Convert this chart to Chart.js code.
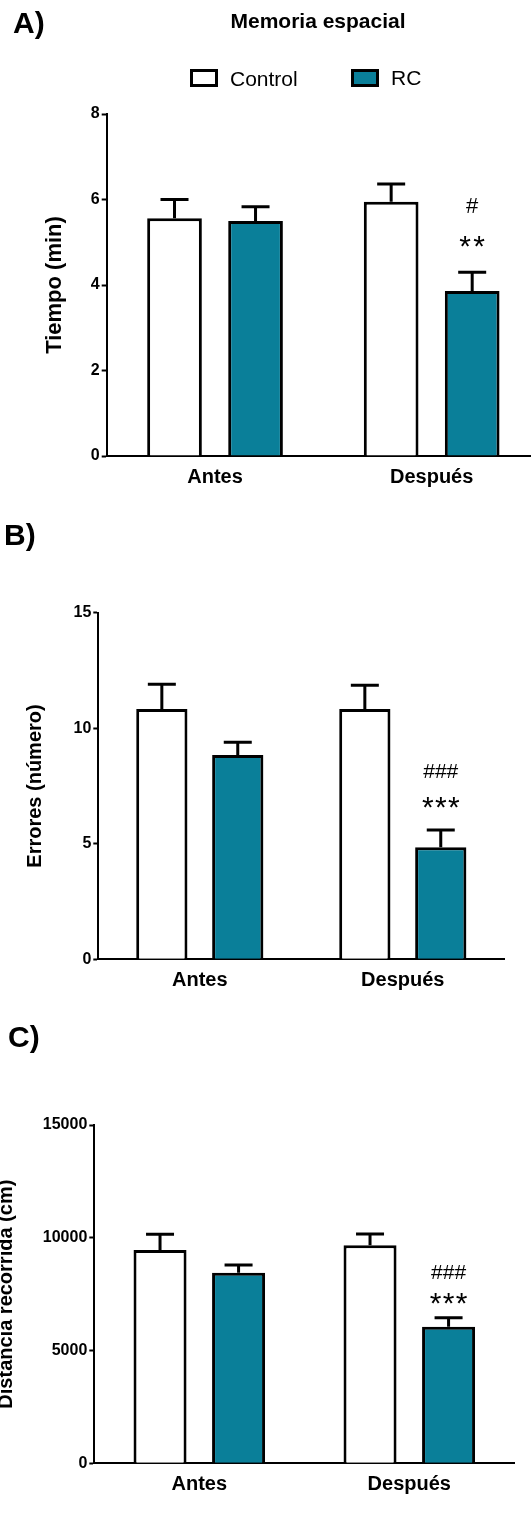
<!DOCTYPE html>
<html>
<head>
<meta charset="utf-8">
<script src="https://cdn.jsdelivr.net/npm/chart.js@4.4.1/dist/chart.umd.min.js"></script>
<style>
  html, body { margin: 0; padding: 0; background: #fff; }
  body { position: relative; width: 531px; height: 1524px; overflow: hidden; }
  canvas { position: absolute; left: -20px; }
</style>
</head>
<body>
<canvas id="cA" width="560" height="510" style="top:0px"></canvas>
<canvas id="cB" width="560" height="490" style="top:520px"></canvas>
<canvas id="cC" width="560" height="534" style="top:990px"></canvas>
<script>
const categories = ['Antes', 'Después'];
const seriesNames = ['Control', 'RC'];

// A) Memoria espacial - tiempo
const tiempoControl = [5.56, 5.95];
const tiempoControlSem = [0.44, 0.41];
const tiempoRC = [5.50, 3.86];
const tiempoRCSem = [0.33, 0.44];
const tiempoTicks = [0, 2, 4, 6, 8];

// B) errores
const erroresControl = [10.83, 10.83];
const erroresControlSem = [1.07, 1.03];
const erroresRC = [8.84, 4.85];
const erroresRCSem = [0.55, 0.75];
const erroresTicks = [0, 5, 10, 15];

// C) distancia recorrida
const distControl = [9459, 9667];
const distControlSem = [696, 502];
const distRC = [8452, 6058];
const distRCSem = [342, 399];
const distTicks = [0, 5000, 10000, 15000];

const WHITE = '#ffffff';
const TEAL = '#0a7f99';
const FONT = "'Liberation Sans', Arial, Helvetica, sans-serif";

Chart.defaults.font.family = FONT;
Chart.defaults.color = '#000';

// texto centrado por la tinta
function inkText(ctx, txt, x, yc, font, align) {
    ctx.font = font;
    ctx.textAlign = align || 'center';
    ctx.textBaseline = 'alphabetic';
    const m = ctx.measureText(txt);
    ctx.fillText(txt, x, yc + (m.actualBoundingBoxAscent - m.actualBoundingBoxDescent) / 2);
}

const errorBars = {
    id: 'errorBars',
    afterDatasetsDraw(chart) {
        const ctx = chart.ctx;
        const y = chart.scales.y;
        chart.data.datasets.forEach((ds, i) => {
            chart.getDatasetMeta(i).data.forEach((bar, j) => {
                const top = y.getPixelForValue(ds.data[j] + ds.sem[j]);
                ctx.save();
                ctx.strokeStyle = '#000';
                ctx.lineWidth = 3;
                ctx.beginPath();
                ctx.moveTo(bar.x, bar.y);
                ctx.lineTo(bar.x, top);
                ctx.moveTo(bar.x - 14, top);
                ctx.lineTo(bar.x + 14, top);
                ctx.stroke();
                ctx.restore();
            });
        });
    }
};

const marks = {
    id: 'marks',
    afterDatasetsDraw(chart, args, opts) {
        if (!opts.items) return;
        const ctx = chart.ctx;
        const bar = chart.getDatasetMeta(opts.dataset).data[opts.index];
        ctx.save();
        ctx.fillStyle = '#000';
        opts.items.forEach(it => {
            const yc = chart.scales.y.getPixelForValue(it.value);
            const chars = it.text.split('');
            chars.forEach((c, k) => {
                const x = bar.x + (k - (chars.length - 1) / 2) * it.step;
                inkText(ctx, c, x, yc, it.size + 'px ' + FONT);
            });
        });
        ctx.restore();
    }
};

const decor = {
    id: 'decor',
    afterDraw(chart, args, opts) {
        const ctx = chart.ctx;
        ctx.save();
        ctx.fillStyle = '#000';
        inkText(ctx, opts.letter, opts.letterX, opts.letterY, 'bold 30px ' + FONT, 'left');
        if (opts.title) {
            inkText(ctx, opts.title, 338, 22, 'bold 21px ' + FONT, 'center');
        }
        if (opts.legend) {
            const boxes = [[210, WHITE], [371, TEAL]];
            boxes.forEach(([bx, col], i) => {
                ctx.fillStyle = col;
                ctx.strokeStyle = '#000';
                ctx.lineWidth = 3;
                ctx.beginPath();
                ctx.rect(bx + 1.5, 70.5, 25, 15);
                ctx.fill();
                ctx.stroke();
                ctx.fillStyle = '#000';
                inkText(ctx, seriesNames[i], bx + 40, 78, '21px ' + FONT, 'left');
            });
        }
        ctx.restore();
    }
};

function makePanel(id, p) {
    const ds = (label, data, sem, color) => ({
        label: label,
        data: data,
        sem: sem,
        backgroundColor: color,
        borderColor: '#000',
        borderWidth: 3,
        categoryPercentage: 0.748,
        barPercentage: 0.675
    });
    return new Chart(document.getElementById(id).getContext('2d'), {
        type: 'bar',
        data: {
            labels: categories,
            datasets: [
                ds(seriesNames[0], p.control, p.controlSem, WHITE),
                ds(seriesNames[1], p.rc, p.rcSem, TEAL)
            ]
        },
        options: {
            responsive: false,
            animation: false,
            layout: { padding: p.padding },
            plugins: {
                legend: { display: false },
                tooltip: { enabled: false },
                marks: p.marks,
                decor: p.decor
            },
            scales: {
                x: {
                    afterFit: s => { s.height = p.xHeight; },
                    grid: { display: false },
                    border: { display: true, color: '#000', width: 2 },
                    ticks: { color: '#000', padding: 1, font: { size: 20, weight: 'bold' } }
                },
                y: {
                    min: p.ticks[0],
                    max: p.ticks[p.ticks.length - 1],
                    afterBuildTicks: s => { s.ticks = p.ticks.map(v => ({ value: v })); },
                    afterFit: s => { s.width = p.yWidth; },
                    grid: { drawOnChartArea: false, drawTicks: true, tickLength: 5, tickWidth: 2, tickColor: '#000' },
                    border: { display: true, color: '#000', width: 2 },
                    ticks: { color: '#000', padding: 2, font: { size: 16, weight: 'bold' }, callback: v => String(v) },
                    title: { display: true, text: p.yTitle, color: '#000', padding: 0, font: { size: p.titleSize, weight: 'bold' } }
                }
            }
        },
        plugins: [errorBars, marks, decor]
    });
}

makePanel('cA', {
    control: tiempoControl, controlSem: tiempoControlSem,
    rc: tiempoRC, rcSem: tiempoRCSem,
    ticks: tiempoTicks,
    yTitle: 'Tiempo (min)', titleSize: 22,
    padding: { left: 62, right: 0, top: 114, bottom: 0 },
    yWidth: 64.7, xHeight: 54,
    marks: { dataset: 1, index: 1, items: [
        { text: '#', value: 5.87, size: 22, step: 0 },
        { text: '**', value: 5.01, size: 30, step: 14 }
    ] },
    decor: { letter: 'A)', letterX: 33, letterY: 25, title: 'Memoria espacial', legend: true }
});

makePanel('cB', {
    control: erroresControl, controlSem: erroresControlSem,
    rc: erroresRC, rcSem: erroresRCSem,
    ticks: erroresTicks,
    yTitle: 'Errores (número)', titleSize: 20,
    padding: { left: 43.5, right: 35.7, top: 92.7, bottom: 0 },
    yWidth: 74.8, xHeight: 50.7,
    marks: { dataset: 1, index: 1, items: [
        { text: '###', value: 8.16, size: 21, step: 11.7 },
        { text: '***', value: 6.77, size: 30, step: 13 }
    ] },
    decor: { letter: 'B)', letterX: 24, letterY: 17 }
});

makePanel('cC', {
    control: distControl, controlSem: distControlSem,
    rc: distRC, rcSem: distRCSem,
    ticks: distTicks,
    yTitle: 'Distancia recorrida (cm)', titleSize: 20,
    padding: { left: 14.5, right: 25.7, top: 135, bottom: 0 },
    yWidth: 99.8, xHeight: 60.7,
    marks: { dataset: 1, index: 1, items: [
        { text: '###', value: 8497, size: 21, step: 11.7 },
        { text: '***', value: 7286, size: 30, step: 13 }
    ] },
    decor: { letter: 'C)', letterX: 28, letterY: 49 }
});
</script>
</body>
</html>
